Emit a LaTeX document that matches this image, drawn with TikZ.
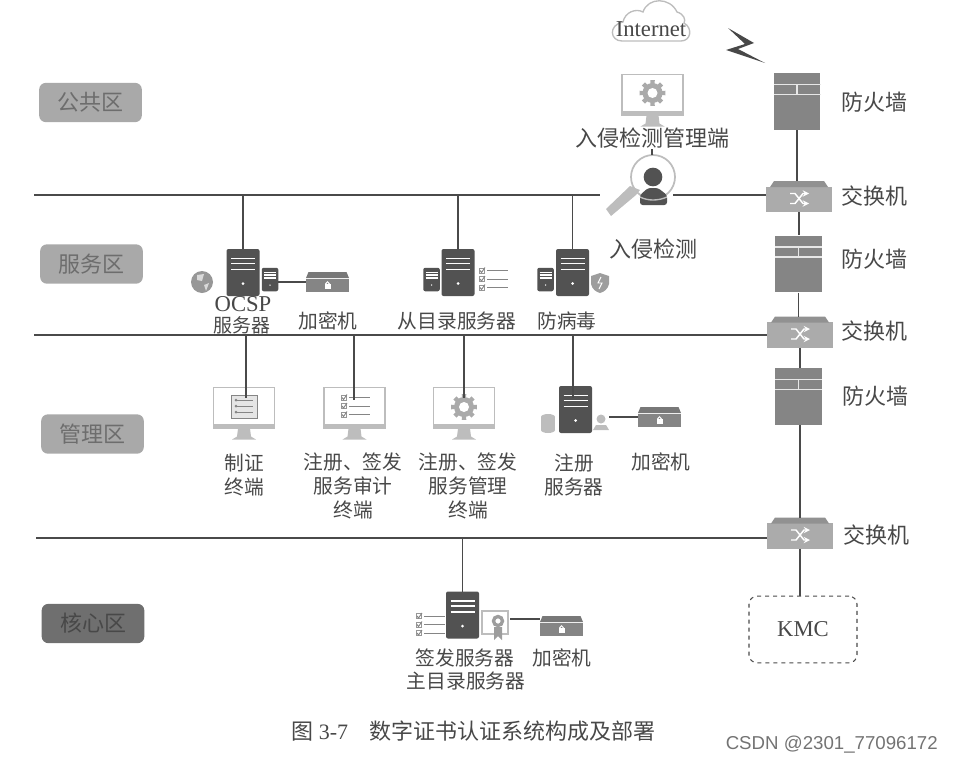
\documentclass[tikz,border=0pt]{standalone}
\usepackage{fontspec}
\setmainfont{Liberation Serif}
\newfontfamily\cjk{Noto Sans CJK SC}
\newfontfamily\wmark{Liberation Sans}
\definecolor{txtgray}{HTML}{484848}
\definecolor{linegray}{HTML}{4A4A4A}
\definecolor{zonegray}{HTML}{A9A9A9}
\definecolor{zonedark}{HTML}{6F6F6F}
\definecolor{fwgray}{HTML}{858585}
\definecolor{swgray}{HTML}{ABABAB}
\definecolor{srvgray}{HTML}{525252}
\definecolor{mongray}{HTML}{BDBDBD}
\tikzset{
  lbl/.style={font=\cjk\fontsize{16.5}{18}\selectfont,text=txtgray,inner sep=0pt,align=center},
  smlbl/.style={font=\cjk\fontsize{14.8}{18}\selectfont,text=txtgray,inner sep=0pt,align=center},
  latinlbl/.style={font=\fontsize{17}{18}\selectfont,text=txtgray,inner sep=0pt},
  zone/.style={rounded corners=5pt,minimum width=77pt,minimum height=29.5pt,inner sep=0pt,
    font=\cjk\fontsize{16.5}{18}\selectfont},
  conn/.style={linegray,line width=0.8pt},
  firewallbox/.style={fill=fwgray,minimum width=35pt,minimum height=42.5pt,inner sep=0pt},
  kmcbox/.style={draw=linegray,dashed,line width=0.8pt,rounded corners=6pt,minimum width=81pt,
    minimum height=50pt,inner sep=0pt,font=\fontsize{17}{18}\selectfont,text=txtgray},
  firewallpic/.pic={
    \node (-box) [firewallbox] at (0,0) {};
    \draw[white!80!fwgray,line width=0.8pt] (-23.5,-17) -- (23.5,-17) (-23.5,-7) -- (23.5,-7) (0,-17) -- (0,-7);
  },
  switchpic/.pic={
    \node (-box) [fill=swgray,minimum width=49pt,minimum height=19pt,inner sep=0pt] at (0,3) {};
    \fill[swgray!85!black] (-29,-9.5) -- (-25,-15.5) -- (25,-15.5) -- (29,-9.5) -- cycle;
    \draw[white,line width=1.1pt,->,>=stealth] (-9,-3) -- (-4,-3) -- (4,7) -- (10,7);
    \draw[white,line width=1.1pt,->,>=stealth] (-9,7) -- (-4,7) -- (4,-3) -- (10,-3);
    \coordinate (-top) at (0,-15.5);
  },
  serverpic/.pic={
    \fill[srvgray,rounded corners=1.5pt] (-16.5,-23.5) rectangle (16.5,23.5);
    \foreach \y in {-14,-9,-3} \draw[white,line width=0.9pt] (-12,\y) -- (12,\y);
    \fill[white] (0,11) circle (1.5);
    \coordinate (-top) at (0,-23.5);
    \coordinate (-bot) at (0,23.5);
    \coordinate (-east) at (16.5,0);
    \coordinate (-west) at (-16.5,0);
  },
  cryptopic/.pic={
    \fill[fwgray!90!black] (-19,-10) -- (19,-10) -- (21.5,-4) -- (-21.5,-4) -- cycle;
    \fill[fwgray] (-21.5,-3) rectangle (21.5,10);
    \fill[white] (-3,2) rectangle (3,7);
    \draw[white,line width=0.6pt] (0,1.5) circle (1.8);
    \coordinate (-west) at (-21.5,0);
    \coordinate (-east) at (21.5,0);
  },
  monitorpic/.pic={
    \draw[mongray,line width=1.3pt] (-30.5,-20) rectangle (30.5,20.5);
    \fill[mongray] (-31,16.5) rectangle (31,21);
    \fill[mongray] (-6,21) -- (6,21) -- (7,29) -- (12,32) -- (-12,32) -- (-7,29) -- cycle;
  },
  gearpic/.pic={
    \foreach \a in {0,45,...,315} \fill[fwgray!70] (\a-14:9) -- (\a-10:13) -- (\a+10:13) -- (\a+14:9) -- cycle;
    \fill[fwgray!70] (0,0) circle (10);
    \fill[white] (0,0) circle (5);
  },
  checkpic/.pic={
    \foreach \y in {-8.5,0,8.5} {
      \draw[mongray!80!black,line width=0.7pt] (-5,\y-2.5) rectangle (0,\y+2.5);
      \draw[fwgray,line width=0.7pt] (-4,\y) -- (-2.5,\y+2) -- (1,\y-3);
      \draw[fwgray,line width=0.5pt] (3,\y) -- (24,\y);
    }
  },
}
\begin{document}
\begin{tikzpicture}[x=0.75pt,y=-0.75pt]
\useasboundingbox (0,0) rectangle (953,764);
% zones
\node (pub) [zone,fill=zonegray,text=txtgray!80] at (90.5,102.5) {公共区};
\node (srv) [zone,fill=zonegray,text=txtgray!80] at (91.5,264) {服务区};
\node (mgr) [zone,fill=zonegray,text=txtgray!80] at (92.5,434) {管理区};
\node (core) [zone,fill=zonedark,text=txtgray] at (93,623.5) {核心区};
% right column
\pic (fwa) at (797,101.5) {firewallpic};
\pic (fwb) at (798.5,264) {firewallpic};
\pic (fwc) at (798.5,396.5) {firewallpic};
\pic (swa) at (799,196.5) {switchpic};
\pic (swb) at (800,332) {switchpic};
\pic (swc) at (800,533) {switchpic};
\node (kmc) [kmcbox] at (803,629.5) {KMC};
\draw[conn] (fwa-box.south) -- (fwa-box.south |- swa-top);
\draw[conn] (swa-box.south) -- (swa-box.south |- fwb-box.north);
\draw[conn] (fwb-box.south) -- (fwb-box.south |- swb-top);
\draw[conn] (swb-box.south) -- (swb-box.south |- fwc-box.north);
\draw[conn] (swc-top) -- (swc-top |- fwc-box.south);
\draw[conn] (swc-box.south) -- (swc-box.south |- kmc.north);
\node (lfwa) [lbl] at (874,102) {防火墙};
\node (lswa) [lbl] at (874,196) {交换机};
\node (lfwb) [lbl] at (874,259) {防火墙};
\node (lswb) [lbl] at (874,331) {交换机};
\node (lfwc) [lbl] at (875,396) {防火墙};
\node (lswc) [lbl] at (876,535) {交换机};
% internet
\draw[mongray,line width=1pt,fill=white] (622,41) .. controls (610,41) and (608,25) .. (623,22)
  .. controls (625,12) and (636,8) .. (643,12) .. controls (648,-3) and (670,-3) .. (677,12)
  .. controls (684,14) and (686,20) .. (684,23) .. controls (693,28) and (691,41) .. (681,41) -- cycle;
\node (inet) [latinlbl] at (651,29) {Internet};
\fill[txtgray] (728,28) -- (754,43) -- (738,49) -- (765,63) -- (726,50) -- (745,44) -- cycle;
% intrusion detection
\pic (idsmon) at (652.5,94.5) {monitorpic};
\pic (idsgear) at (652.5,93) {gearpic};
\node (lidsm) [lbl,fill=white,inner sep=0.5pt] at (652,138) {入侵检测管理端};
\draw[mongray,line width=1.3pt] (653,177) circle (22);
\fill[mongray] (640,190) -- (636,195) -- (611,216) -- (606,209) -- (630,186) -- cycle;
\node (ids) [circle,fill=srvgray,minimum size=14pt,inner sep=0pt] at (653,177) {};
\fill[srvgray,rounded corners=2pt] (640,205) -- (640,195) -- (648,188) -- (658,188) -- (667,195) -- (667,205) -- cycle;
\draw[mongray,line width=1pt] (640,197) .. controls (648,201) and (658,201) .. (667,197);
\node (lids) [lbl] at (653,249) {入侵检测};
\draw[conn] (lidsm.south) -- (lidsm.south |- 0,155);
% buses
\coordinate (busa) at (34,195);
\coordinate (busaend) at (600,195);
\coordinate (busb) at (34,335);
\coordinate (busc) at (36,538);
\draw[conn] (busa) -- (busaend);
\draw[conn] (673,195) -- (swa-box.west |- 0,195);
\draw[conn] (busb) -- (busb -| swb-box.west);
\draw[conn] (busc) -- (busc -| swc-box.west);
% service zone
\pic (ocsp) at (243,272.5) {serverpic};
\pic[scale=.5] (ocsps) at (270,279.5) {serverpic};
\fill[fwgray!85] (202,282) circle (11);
\fill[white!85!black] (197,275) -- (204,274) -- (202,281) -- (197,280) -- cycle (204,285) -- (209,283) -- (206,291) -- cycle;
\pic (crya) at (327.5,282) {cryptopic};
\draw[conn] (ocsps-east |- crya-west) -- (crya-west);
\draw[conn] (ocsp-top) -- (ocsp-top |- busa);
\node (locsp) [latinlbl] at (243,304.5) {OCSP};
\node (locsps) [smlbl] at (242,325) {\fontsize{14.2}{18}\selectfont 服务器};
\node (lcrya) [smlbl] at (328,321) {加密机};
\pic (slave) at (458,272.5) {serverpic};
\pic[scale=.5] (slaves) at (431.5,279.5) {serverpic};
\pic (slavec) at (484,279) {checkpic};
\draw[conn] (slave-top) -- (slave-top |- busa);
\node (lslave) [smlbl] at (457,321) {从目录服务器};
\pic (virus) at (572.5,272.5) {serverpic};
\pic[scale=.5] (viruss) at (545.5,279.5) {serverpic};
\fill[fwgray!80] (591,276) -- (600,273) -- (609,276) -- (609,284) .. controls (608,289) and (604,292) .. (600,293) .. controls (596,292) and (592,289) .. (591,284) -- cycle;
\draw[white,line width=0.7pt] (601,277) -- (598,283) -- (602,283) -- (599,289);
\draw[conn] (virus-top) -- (virus-top |- busa);
\node (lvirus) [smlbl] at (567,321) {防病毒};
% management zone
\pic (mona) at (244,407.5) {monitorpic};
\draw[fwgray,line width=0.7pt,fill=mongray!40] (231,395) rectangle (257,418);
\foreach \y in {400,406,412} {
  \draw[fwgray,line width=0.7pt] (236,\y) -- (253,\y);
  \fill[fwgray] (236,\y) circle (1.5);
}
\pic (monb) at (354.5,407.5) {monitorpic};
\pic (monbc) at (346,406) {checkpic};
\pic (monc) at (464,407.5) {monitorpic};
\pic (moncg) at (464,407) {gearpic};
\node (lmona) [smlbl] at (244,475) {制证\\终端};
\node (lmonb) [smlbl] at (353,486) {注册、签发\\服务审计\\终端};
\node (lmonc) [smlbl] at (468,486) {注册、签发\\服务管理\\终端};
\pic (reg) at (575.5,409.5) {serverpic};
\fill[mongray] (541,417) rectangle (555,430);
\fill[mongray] (548,417) ellipse (7 and 3) (548,430) ellipse (7 and 3);
\fill[mongray] (601,419) circle (4.5) (593,430) -- (596,425) -- (606,425) -- (609,430) -- cycle;
\pic (cryb) at (659.5,417) {cryptopic};
\draw[conn] (609,417) -- (cryb-west);
\draw[conn] (246,335) -- (246,398);
\draw[conn] (354,335) -- (354,400);
\draw[conn] (464,335) -- (464,398);
\draw[conn] (573,335) -- (573,398);
\node (lreg) [smlbl] at (574,475) {注册\\服务器};
\node (lcryb) [smlbl] at (661,462) {加密机};
% core zone
\pic (sign) at (462.5,615) {serverpic};
\pic (signc) at (421,624.5) {checkpic};
\draw[mongray,line width=0.8pt] (482,611) rectangle (508,634);
\draw[fwgray!80,line width=2.5pt] (498,621) circle (4.5);
\fill[fwgray!80] (494,627) -- (502,627) -- (502,640) -- (498,636) -- (494,640) -- cycle;
\pic (cryc) at (561.5,626) {cryptopic};
\draw[conn] (510,619) -- (cryc-west |- 0,619);
\draw[conn] (sign-top) -- (sign-top |- busc);
\node (lsign) [smlbl] at (465,658) {签发服务器};
\node (lmain) [smlbl] at (466,681) {主目录服务器};
\node (lcryc) [smlbl] at (562,658) {加密机};
% caption
\node (capt) [lbl,anchor=west,font=\fontsize{16.5}{18}\selectfont] at (291,731) {{\cjk 图} 3-7\hspace{16pt}{\cjk 数字证书认证系统构成及部署}};
\node (wm) [anchor=east,inner sep=0pt,font=\wmark\fontsize{14}{16}\selectfont,text=black!55] at (938,745) {CSDN @2301\_77096172};
\end{tikzpicture}
\end{document}
